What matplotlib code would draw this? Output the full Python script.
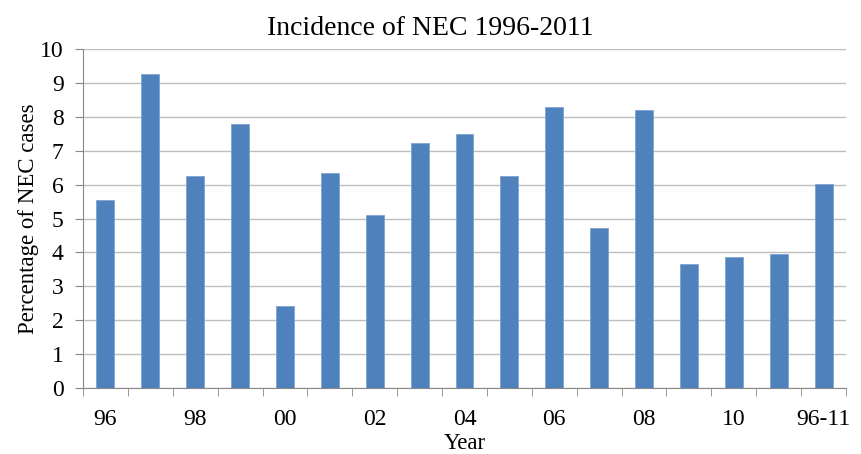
import matplotlib.pyplot as plt
import numpy as np

# categorias (anos) e percentuais de NEC
years = ['96', '97', '98', '99', '00', '01', '02', '03', '04', '05',
         '06', '07', '08', '09', '10', '11', '96-11']
values = [5.55, 9.25, 6.25, 7.78, 2.42, 6.33, 5.10, 7.22, 7.48, 6.25,
          8.30, 4.73, 8.20, 3.65, 3.85, 3.95, 6.03]

plt.rcParams['font.family'] = ['Liberation Serif', 'DejaVu Serif']

fig = plt.figure(figsize=(8.61, 4.54), dpi=100)
ax = fig.add_axes([0.0964, 0.1454, 0.8862, 0.7466])

x = np.arange(len(years))
ax.bar(x, values, width=0.4, color='#4F81BD', edgecolor='#7FA3D1', linewidth=0.6, zorder=3)

ax.set_xlim(-0.5, len(years) - 0.5)
ax.set_ylim(0, 10)
ax.set_yticks(range(0, 11))
ax.yaxis.grid(True, color='#BEBEBE', linewidth=1.0, zorder=0)

# rótulos só a cada dois anos, marcas nas divisas
ax.set_xticks(x[::2])
ax.set_xticklabels(years[::2])
ax.set_xticks(np.arange(-0.5, len(years)), minor=True)
ax.tick_params(axis='x', which='major', length=0, pad=15, labelsize=17)
ax.tick_params(axis='x', which='minor', length=6, color='#888888', direction='out')
ax.tick_params(axis='y', length=6, color='#888888', labelsize=17, pad=8)

for s in ['top', 'right']:
    ax.spines[s].set_visible(False)
ax.spines['left'].set_color('#888888')
ax.spines['bottom'].set_color('#888888')

fig.text(0.5, 0.937, 'Incidence of NEC 1996-2011', fontsize=20, ha='center', va='center')
ax.set_xlabel('Year', fontsize=16.5, labelpad=2)
ax.set_ylabel('Percentage of NEC cases', fontsize=16.5, labelpad=1)

plt.savefig('out.png', dpi=100)
